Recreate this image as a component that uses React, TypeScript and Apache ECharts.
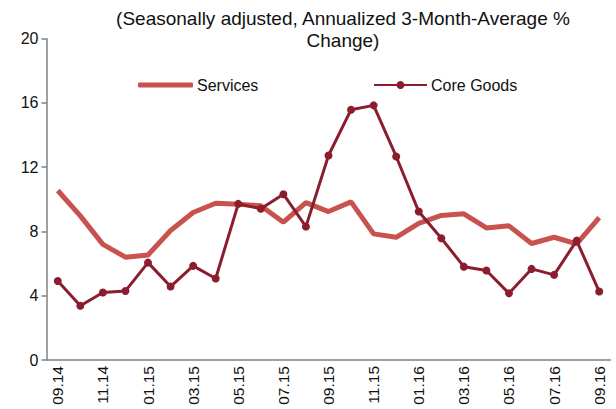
import React, { useEffect, useRef } from "react";
import * as echarts from "echarts";

const categories = [
  "09.14", "10.14", "11.14", "12.14", "01.15", "02.15", "03.15", "04.15", "05.15",
  "06.15", "07.15", "08.15", "09.15", "10.15", "11.15", "12.15", "01.16", "02.16",
  "03.16", "04.16", "05.16", "06.16", "07.16", "08.16", "09.16",
];
const services = [
  10.55, 8.97, 7.2, 6.4, 6.54, 8.06, 9.18, 9.76, 9.7, 9.6, 8.58, 9.8, 9.24,
  9.84, 7.85, 7.64, 8.5, 9.0, 9.1, 8.22, 8.35, 7.25, 7.64, 7.23, 8.87,
];
const coreGoods = [
  4.92, 3.38, 4.2, 4.3, 6.06, 4.57, 5.86, 5.07, 9.72, 9.41, 10.32, 8.3, 12.73,
  15.58, 15.85, 12.67, 9.24, 7.58, 5.81, 5.57, 4.15, 5.67, 5.3, 7.43, 4.26,
];
const yTicks = { min: 0, max: 20, interval: 4 };
const titleLines = ["(Seasonally adjusted, Annualized 3-Month-Average %", "Change)"];

const FONT = "Arial, 'Liberation Sans', sans-serif";
const SERVICES_COLOR = "#C8524E";
const GOODS_COLOR = "#8B1E2E";

export default function App() {
  const ref = useRef<HTMLDivElement>(null);
  useEffect(() => {
    if (!ref.current) return;
    const chart = echarts.init(ref.current, undefined, { renderer: "svg" });
    const legendText = { fontSize: 16, color: "#111", fontFamily: FONT };
    chart.setOption({
      animation: false,
      textStyle: { fontFamily: FONT },
      graphic: [
        {
          type: "text",
          x: 343,
          y: 8,
          style: {
            text: titleLines.join("\n"),
            textAlign: "center",
            fill: "#111",
            font: `19px ${FONT}`,
            lineHeight: 21.5,
          },
        },
      ],
      legend: [
        {
          left: 138,
          top: 77,
          padding: 0,
          itemWidth: 55,
          itemHeight: 5,
          icon: "roundRect",
          itemGap: 4,
          textStyle: { ...legendText, padding: [0, 0, 0, -1] },
          data: ["Services"],
        },
        {
          left: 373,
          top: 77,
          padding: 0,
          itemWidth: 53,
          itemHeight: 10,
          textStyle: { ...legendText, padding: [0, 0, 0, -1] },
          data: ["Core Goods"],
        },
      ],
      grid: { left: 46.5, right: 5.5, top: 38.7, bottom: 49 },
      xAxis: {
        type: "category",
        data: categories,
        boundaryGap: true,
        axisLine: { lineStyle: { color: "#808080", width: 1.5 } },
        axisTick: { interval: 1, length: 5, lineStyle: { color: "#808080", width: 1.5 } },
        axisLabel: {
          interval: 1,
          rotate: 90,
          fontSize: 15.5,
          color: "#111",
          margin: 6,
          fontFamily: FONT,
        },
      },
      yAxis: {
        type: "value",
        min: yTicks.min,
        max: yTicks.max,
        interval: yTicks.interval,
        splitLine: { show: false },
        axisLine: { show: true, lineStyle: { color: "#808080", width: 1.5 } },
        axisTick: { show: true, length: 5, lineStyle: { color: "#808080", width: 1.5 } },
        axisLabel: { fontSize: 16, color: "#111", margin: 8, fontFamily: FONT },
      },
      series: [
        {
          name: "Services",
          type: "line",
          data: services,
          symbol: "none",
          lineStyle: { color: SERVICES_COLOR, width: 5 },
          itemStyle: { color: SERVICES_COLOR },
        },
        {
          name: "Core Goods",
          type: "line",
          data: coreGoods,
          symbol: "circle",
          symbolSize: 8,
          lineStyle: { color: GOODS_COLOR, width: 3 },
          itemStyle: { color: GOODS_COLOR },
        },
      ],
    });
    return () => chart.dispose();
  }, []);
  return <div ref={ref} style={{ width: 616, height: 409, position: "absolute", left: 0, top: 0 }} />;
}
